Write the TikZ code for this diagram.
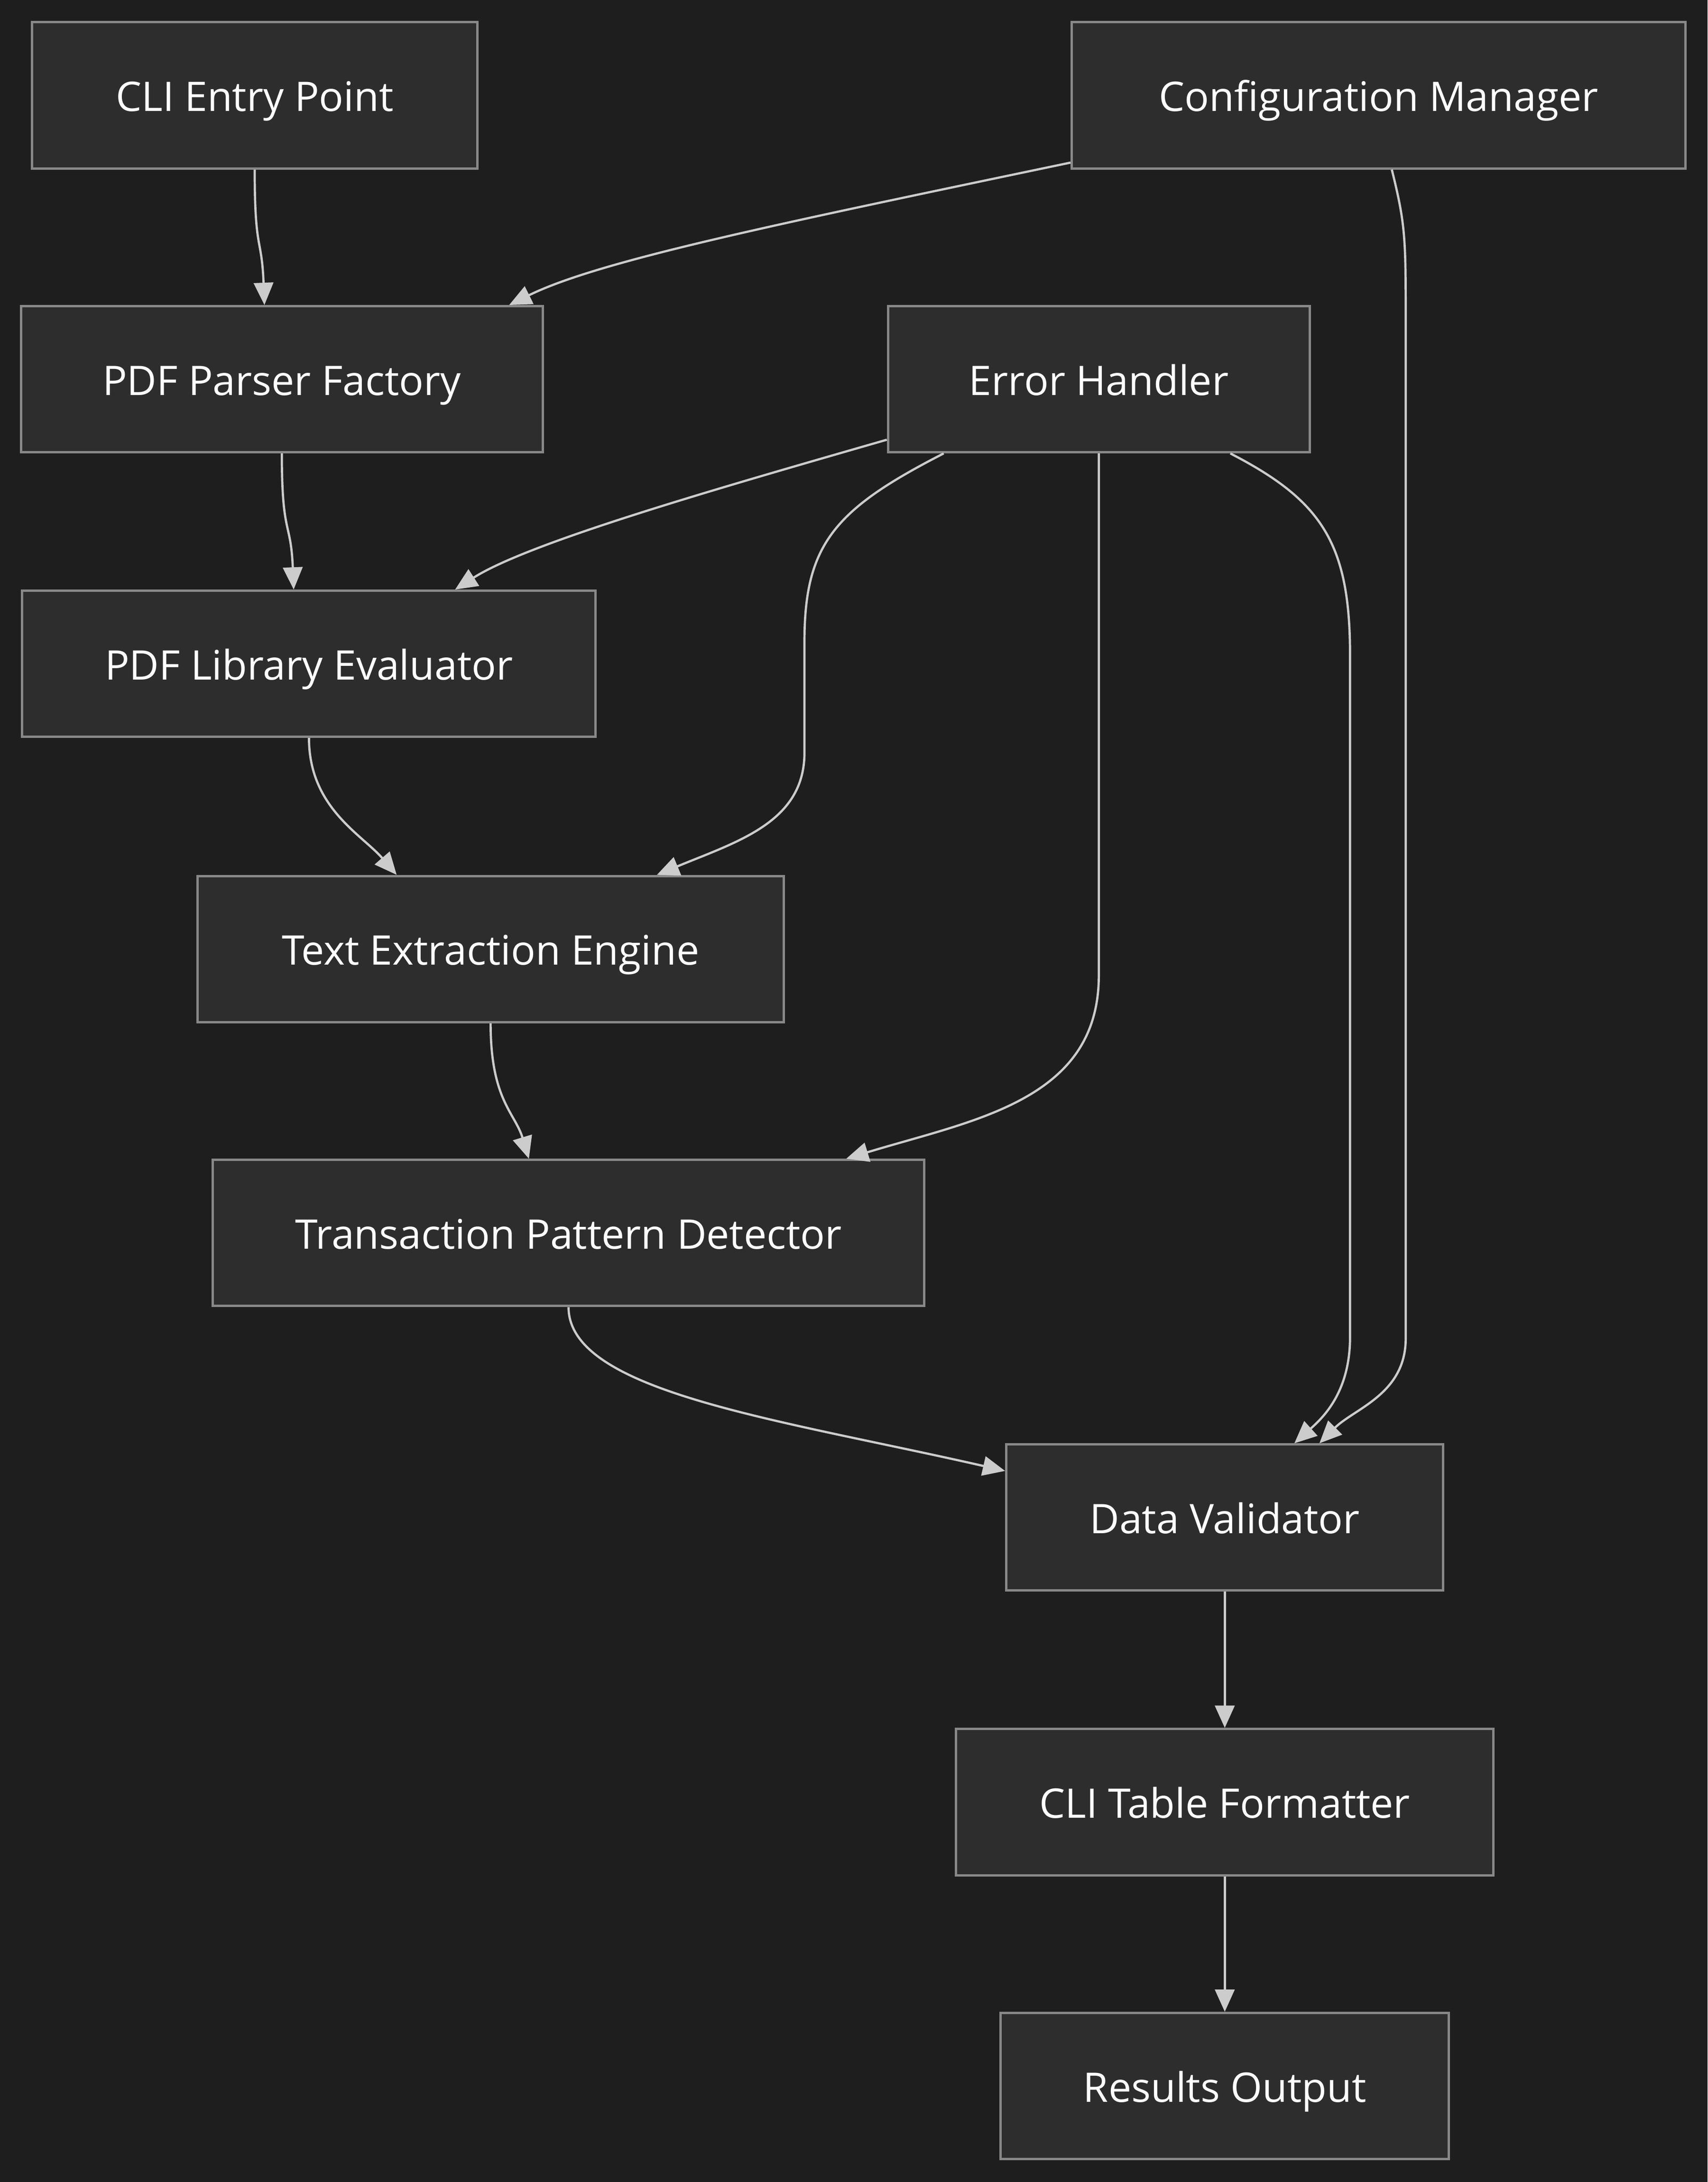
\documentclass[tikz,border=0pt]{standalone}
\usepackage{fontspec}
\setmainfont{Open Sans}
\usetikzlibrary{arrows.meta}
\definecolor{bgcol}{HTML}{1E1E1E}
\definecolor{boxfill}{HTML}{2D2D2D}
\definecolor{boxline}{HTML}{888888}
\definecolor{edgecol}{HTML}{CCCCCC}
\begin{document}
\begin{tikzpicture}[x=1pt,y=-1pt,
  box/.style={draw=boxline, fill=boxfill, line width=1.7pt, text=white,
    font=\fontsize{29.3}{35}\selectfont, inner sep=0pt, minimum height=105pt,
    text height=28pt, text depth=5pt},
  link/.style={draw=edgecol, line width=1.6pt, -{Triangle[length=16pt,width=14pt]}}]
\fill[bgcol] (0,0) rectangle (1227,1568);
\useasboundingbox (0,0) rectangle (1227,1568);
\node[box, minimum width=320pt] (cli) at (183,68.5) {CLI Entry Point};
\node[box, minimum width=441pt] (config) at (990.5,68.5) {Configuration Manager};
\node[box, minimum width=375pt] (parser) at (202.5,272.5) {PDF Parser Factory};
\node[box, minimum width=303pt] (error) at (789.5,272.5) {Error Handler};
\node[box, minimum width=412pt] (lib) at (222,477) {PDF Library Evaluator};
\node[box, minimum width=421pt] (text) at (352.5,682) {Text Extraction Engine};
\node[box, minimum width=511pt] (trans) at (408.5,886) {Transaction Pattern Detector};
\node[box, minimum width=314pt] (valid) at (880,1090.5) {Data Validator};
\node[box, minimum width=386pt] (table) at (880,1295) {CLI Table Formatter};
\node[box, minimum width=322pt] (results) at (880,1499) {Results Output};

\draw[link] (cli.south) .. controls +(0,60) and +(-2,-50) .. ([xshift=-12.5pt]parser.north);
\draw[link] ([yshift=5pt]config.south west) .. controls +(-210,44) and +(65,-32) .. ([xshift=-25pt]parser.north east);
\draw[link] ([xshift=9.5pt]config.south) .. controls +(10,40) and +(0,-60) .. ++(10,110) -- ++(0,730) .. controls +(0,40) and +(25,-25) .. ([xshift=68pt]valid.north);
\draw[link] (parser.south) .. controls +(0,60) and +(-2,-50) .. ([xshift=8.5pt]parser.south |- lib.north);
\draw[link] ([yshift=-43.5pt]error.west) .. controls +(-118,34) and +(53,-34) .. ([xshift=105pt]lib.north);
\draw[link] ([xshift=-111.5pt]error.south) .. controls +(-78,40) and +(0,-70) .. ++(-100,135) -- ++(0,80) .. controls +(0,50) and +(58,-24) .. ([xshift=119.5pt]text.north);
\draw[link] (error.south) -- ++(0,375) .. controls +(0,90) and +(92,-28) .. ([xshift=199.5pt]trans.north);
\draw[link] ([xshift=94.5pt]error.south) .. controls +(66,34) and +(0,-80) .. ++(86,145) -- ++(0,490) .. controls +(0,40) and +(20,-18) .. ([xshift=50pt]valid.north);
\draw[link] (lib.south) .. controls +(0,50) and +(-25,-29) .. ([xshift=-67.5pt]text.north);
\draw[link] (text.south) .. controls +(0,55) and +(-10,-33) .. ([xshift=-28.5pt]trans.north);
\draw[link] (trans.south) .. controls +(0,61) and +(-162,-37) .. ([yshift=33.5pt]valid.west);
\draw[link] (valid.south) -- (table.north);
\draw[link] (table.south) -- (results.north);
\end{tikzpicture}
\end{document}
